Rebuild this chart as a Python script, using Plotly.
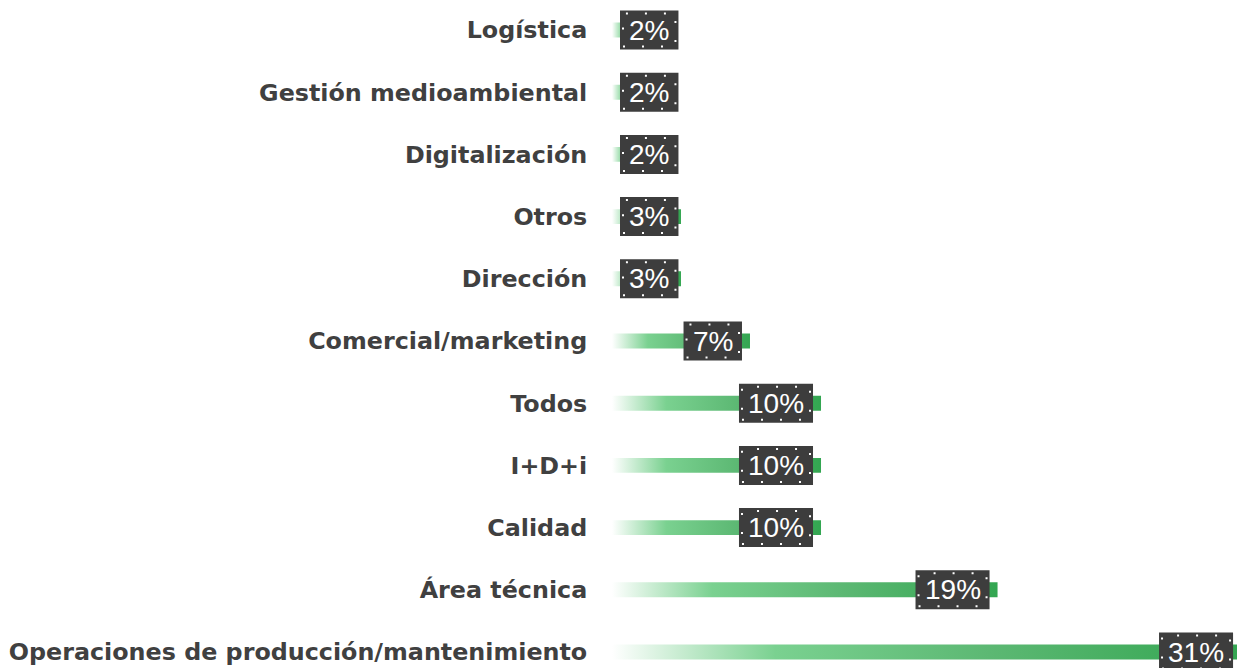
import plotly.graph_objects as go

categories = ["Logística", "Gestión medioambiental", "Digitalización", "Otros", "Dirección",
              "Comercial/marketing", "Todos", "I+D+i", "Calidad", "Área técnica",
              "Operaciones de producción/mantenimiento"]
values = [2.1, 2.1, 2.1, 3.4, 3.4, 6.8, 10.3, 10.3, 10.3, 19.0, 31.0]
labels = ["2%", "2%", "2%", "3%", "3%", "7%", "10%", "10%", "10%", "19%", "31%"]

X_MAX = 30.8
PLOT_W = 625
SCALE = PLOT_W / X_MAX
HALF = 0.12
FS = 28
BOX_H = 39

colorscale = [[0, "rgba(255,255,255,1)"], [0.26, "#7ad190"], [0.6, "#5cb873"], [1, "#33a651"]]

fig = go.Figure()
for i, (c, v) in enumerate(zip(categories, values)):
    fig.add_trace(go.Scatter(
        x=[0, v, v, 0, 0],
        y=[i - HALF, i - HALF, i + HALF, i + HALF, i - HALF],
        mode="lines", line=dict(width=0), fill="toself",
        fillgradient=dict(type="horizontal", colorscale=colorscale, start=0, stop=v),
        hoverinfo="skip", showlegend=False,
    ))

def text_w(s):
    w = 0
    for ch in s:
        w += 0.889 if ch == "%" else 0.556
    return w * FS

shapes = []
for i, (v, lab) in enumerate(zip(values, labels)):
    total = text_w(lab) + 18
    xa = max(v, (16 + total) / SCALE)
    shift = -8
    if xa > X_MAX:
        shift += (xa - X_MAX) * SCALE
        xa = X_MAX
    right = shift
    left = shift - total
    shapes.append(dict(
        type="rect", xref="x", yref="y", xsizemode="pixel", ysizemode="pixel",
        xanchor=xa, yanchor=i, x0=left, x1=right, y0=-BOX_H / 2, y1=BOX_H / 2,
        fillcolor="#3d3d3d", line=dict(width=0), layer="above",
    ))
    shapes.append(dict(
        type="rect", xref="x", yref="y", xsizemode="pixel", ysizemode="pixel",
        xanchor=xa, yanchor=i, x0=left + 3, x1=right - 3, y0=-BOX_H / 2 + 3, y1=BOX_H / 2 - 3,
        line=dict(color="white", width=2, dash="2px,17px"), layer="above",
    ))
    fig.add_annotation(
        x=xa, y=i, xref="x", yref="y", text=lab, showarrow=False,
        xanchor="center", yanchor="middle", xshift=(left + right) / 2,
        font=dict(family="Liberation Sans, Arial, sans-serif", size=FS, color="white"),
    )

fig.update_layout(
    width=1237, height=668,
    margin=dict(l=612, r=0, t=0, b=0),
    paper_bgcolor="white", plot_bgcolor="white",
    shapes=shapes,
    xaxis=dict(range=[0, X_MAX], showgrid=False, zeroline=False, showticklabels=False,
               showline=False, fixedrange=True),
    yaxis=dict(range=[10 + 16 / 62.2, -30 / 62.2], tickvals=list(range(len(categories))),
               ticktext=categories, showgrid=False, zeroline=False, showline=False,
               ticks="outside", ticklen=19, tickcolor="rgba(0,0,0,0)",
               tickfont=dict(family="DejaVu Sans, sans-serif", size=23.8, color="#404040",
                             weight="bold"),
               fixedrange=True),
)

fig.write_html("out.html", config={"displayModeBar": False},
               post_script="document.body.style.margin='0';document.body.style.overflow='hidden';")
